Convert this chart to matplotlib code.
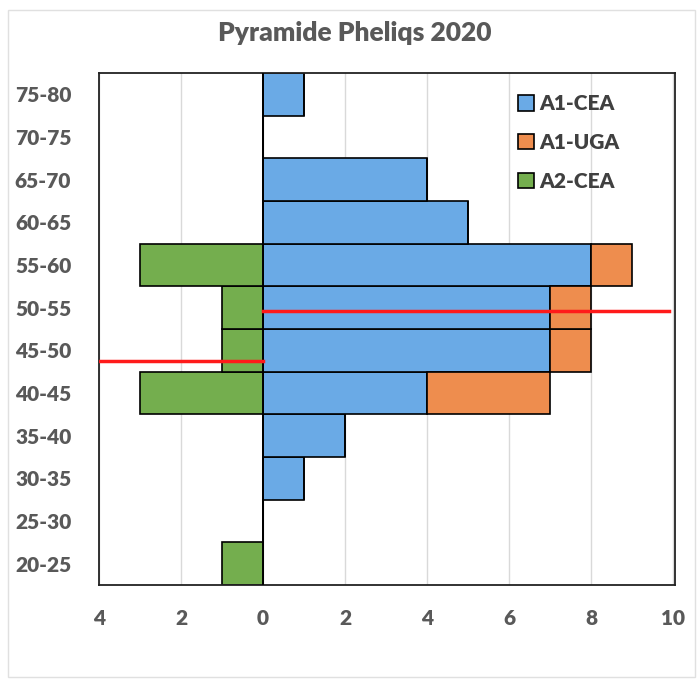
import numpy as np
import matplotlib
matplotlib.use('Agg')
import matplotlib.pyplot as plt
from matplotlib.patches import Rectangle

plt.rcParams['font.family'] = ['Lato', 'DejaVu Sans']

# tranches d'age, du bas vers le haut
ages = ["20-25", "25-30", "30-35", "35-40", "40-45", "45-50",
        "50-55", "55-60", "60-65", "65-70", "70-75", "75-80"]
a1_cea = [0, 0, 1, 2, 4, 7, 7, 8, 5, 4, 0, 1]
a1_uga = [0, 0, 0, 0, 3, 1, 1, 1, 0, 0, 0, 0]
a2_cea = [1, 0, 0, 0, 3, 1, 1, 3, 0, 0, 0, 0]

# lignes rouges (age moyen, en index de tranche)
mean_a1_y = 5.92
mean_a1_x = [0, 9.9]
mean_a2_y = 4.76
mean_a2_x = [-4, 0]

xticks = [-4, -2, 0, 2, 4, 6, 8, 10]

fig = plt.figure(figsize=(6.97, 6.84), dpi=100)
ax = fig.add_axes([99/697, 1 - 585/684, 576/697, 512/684])

y = np.arange(len(ages))
ax.barh(y, a1_cea, height=1.0, color='#6AAAE6', edgecolor='black', linewidth=1.2, label='A1-CEA', zorder=2)
ax.barh(y, a1_uga, left=a1_cea, height=1.0, color='#EE8D4E', edgecolor='black', linewidth=1.2, label='A1-UGA', zorder=2)
ax.barh(y, -np.array(a2_cea), height=1.0, color='#74AE4E', edgecolor='black', linewidth=1.2, label='A2-CEA', zorder=2)

ax.plot(mean_a1_x, [mean_a1_y, mean_a1_y], color='#FF1A1A', linewidth=2.5, zorder=4)
ax.plot(mean_a2_x, [mean_a2_y, mean_a2_y], color='#FF1A1A', linewidth=2.5, zorder=4)

ax.axvline(0, color='black', linewidth=1.2, zorder=3)

ax.set_xlim(-4, 10.05)
ax.set_ylim(-0.5, len(ages) - 0.5)
ax.set_yticks(y)
ax.set_yticklabels(ages)
ax.set_xticks(xticks)
ax.set_xticklabels([str(abs(v)) for v in xticks])
ax.tick_params(length=0, labelsize=15, labelcolor='#595959')
ax.tick_params(axis='x', pad=17)
ax.tick_params(axis='y', pad=20)
for lab in ax.get_xticklabels() + ax.get_yticklabels():
    lab.set_fontweight('heavy')
ax.grid(axis='x', color='#D9D9D9', linewidth=1, zorder=0)
ax.set_axisbelow(True)
for s in ax.spines.values():
    s.set_color('#222222')
    s.set_linewidth(1.3)

fig.text(0.509, 1 - 33/684, 'Pyramide Pheliqs 2020', fontsize=19, fontweight='heavy',
         color='#595959', ha='center', va='center')

leg = ax.legend(loc='upper right', bbox_to_anchor=(0.936, 0.995), frameon=False,
                fontsize=15, handlelength=0.75, handleheight=0.75, handletextpad=0.25,
                labelspacing=0.95)
for t in leg.get_texts():
    t.set_fontweight('heavy')
    t.set_color('#404040')

fig.patches.append(Rectangle((0.012, 0.01), 0.985, 0.975, transform=fig.transFigure,
                             fill=False, edgecolor='#E0E0E0', linewidth=1))

fig.savefig('out.png', dpi=100)
